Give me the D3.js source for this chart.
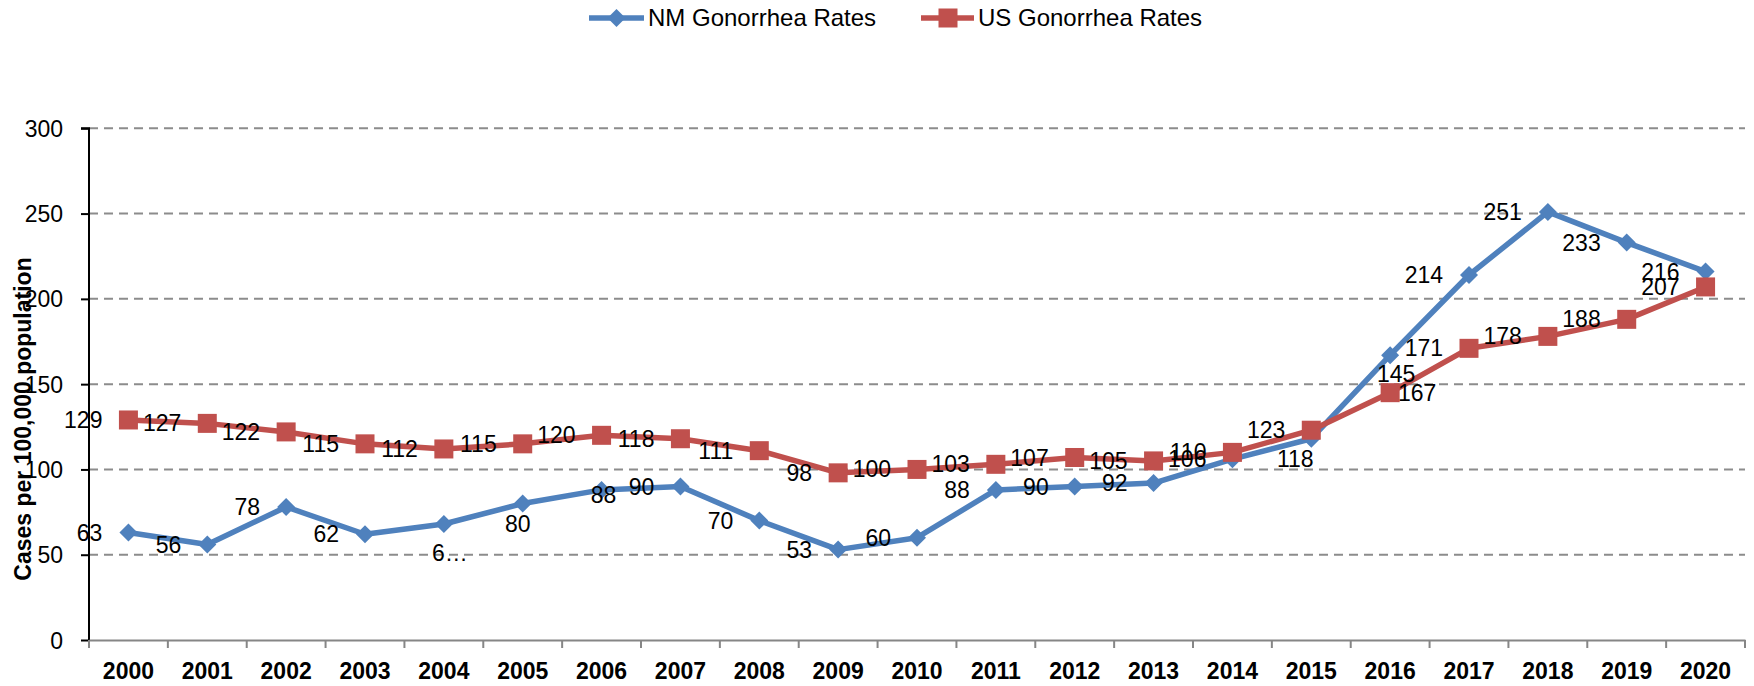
<!DOCTYPE html>
<html>
<head>
<meta charset="utf-8">
<script src="https://cdn.jsdelivr.net/npm/d3@7"></script>
<style>
  html, body { margin: 0; padding: 0; background: #fff; }
  svg { display: block; font-family: "Liberation Sans", Arial, sans-serif; }
</style>
</head>
<body>
<svg id="chart" width="1754" height="686"></svg>
<script>
const years = ["2000","2001","2002","2003","2004","2005","2006","2007","2008","2009","2010",
               "2011","2012","2013","2014","2015","2016","2017","2018","2019","2020"];
const nmRates = [63,56,78,62,68,80,88,90,70,53,60,88,90,92,106,118,167,214,251,233,216];
const usRates = [129,127,122,115,112,115,120,118,111,98,100,103,107,105,110,123,145,171,178,188,207];
const yTicks = [0,50,100,150,200,250,300];
const seriesNames = ["NM Gonorrhea Rates", "US Gonorrhea Rates"];
// data label placement (Excel style)
const nmLabelPlace = ["left","left","left","left","belowTrunc","below","center","left","left","left","left",
                      "left","left","left","left","belowLeft","belowRight","left","left","left","left"];
const usLabelPlace = ["left","left","left","left","left","left","left","left","left","left","left",
                      "left","left","left","left","left","above","left","left","left","left"];

const svg = d3.select("#chart");
const plot = {left: 89, right: 1745, top: 128.3, bottom: 640};
const blue = "#4F81BD", red = "#C0504D";
const fs = 23;

const x = d3.scaleBand().domain(years).range([plot.left, plot.right]).padding(0);
const cx = d => x(d) + x.bandwidth() / 2;
const y = d3.scaleLinear().domain([0, 300]).range([plot.bottom, plot.top]);

// gridlines
svg.append("g").selectAll("line").data(yTicks.filter(t => t > 0)).join("line")
  .attr("x1", plot.left).attr("x2", plot.right)
  .attr("y1", d => y(d)).attr("y2", d => y(d))
  .attr("stroke", "#8c8c8c").attr("stroke-width", 2).attr("stroke-dasharray", "9,6");

// y axis
const yAxis = d3.axisLeft(y).tickValues(yTicks).tickSize(8).tickPadding(18).tickFormat(d3.format("d"));
const gy = svg.append("g").attr("transform", `translate(${plot.left},0)`).call(yAxis);
gy.select(".domain").attr("stroke", "#000").attr("stroke-width", 2).attr("d", `M-8,${plot.top}H0V${plot.bottom}`);
gy.selectAll(".tick line").attr("stroke", "#000").attr("stroke-width", 2);
gy.selectAll(".tick text").attr("font-size", fs).attr("fill", "#000")
  .attr("font-family", "'Liberation Sans', Arial, sans-serif").attr("dy", "0.35em");

// x axis
const xAxis = d3.axisBottom(x).tickSize(0).tickPadding(23);
const gx = svg.append("g").attr("transform", `translate(0,${plot.bottom})`).call(xAxis);
gx.select(".domain").attr("stroke", "#868686").attr("stroke-width", 2);
gx.selectAll(".tick text").attr("font-size", fs).attr("font-weight", "bold").attr("fill", "#000")
  .attr("font-family", "'Liberation Sans', Arial, sans-serif");
// boundary ticks
const bounds = years.map(d => x(d)).concat([plot.right]);
svg.append("g").selectAll("line").data(bounds).join("line")
  .attr("x1", d => d).attr("x2", d => d)
  .attr("y1", plot.bottom).attr("y2", plot.bottom + 8)
  .attr("stroke", "#868686").attr("stroke-width", 2);

// y axis title
svg.append("text")
  .attr("transform", `translate(31,${419}) rotate(-90)`)
  .attr("text-anchor", "middle").attr("font-size", 23).attr("font-weight", "bold")
  .text("Cases per 100,000 population");

const line = d3.line().x((d, i) => cx(years[i])).y(d => y(d));
const diamond = (s) => `M0,${-s}L${s},0L0,${s}L${-s},0Z`;

// NM series
svg.append("path").datum(nmRates).attr("d", line)
  .attr("fill", "none").attr("stroke", blue).attr("stroke-width", 5.5).attr("stroke-linejoin", "round");
svg.append("g").selectAll("path").data(nmRates).join("path")
  .attr("d", diamond(9))
  .attr("transform", (d, i) => `translate(${cx(years[i])},${y(d)})`)
  .attr("fill", blue);

// US series
svg.append("path").datum(usRates).attr("d", line)
  .attr("fill", "none").attr("stroke", red).attr("stroke-width", 5.5).attr("stroke-linejoin", "round");
svg.append("g").selectAll("rect").data(usRates).join("rect")
  .attr("x", (d, i) => cx(years[i]) - 9.5).attr("y", d => y(d) - 9.5)
  .attr("width", 19).attr("height", 19).attr("fill", red);

// data labels
function placeLabels(values, places) {
  const g = svg.append("g");
  values.forEach((v, i) => {
    const px = cx(years[i]), py = y(v), p = places[i];
    let tx = px, ty = py, anchor = "middle", txt = String(v);
    if (p === "left") { tx = px - 26; anchor = "end"; }
    else if (p === "below") { tx = px - 5; ty = py + 20; }
    else if (p === "belowTrunc") { tx = px + 6; ty = py + 29; txt = txt[0] + "…"; }
    else if (p === "belowLeft") { tx = px - 16; ty = py + 20; }
    else if (p === "belowRight") { tx = px + 27; ty = py + 38; }
    else if (p === "above") { tx = px + 6; ty = py - 19; }
    else if (p === "center") { tx = px + 2; ty = py + 5; }
    g.append("text").attr("x", tx).attr("y", ty + 0.35 * fs)
      .attr("text-anchor", anchor).attr("font-size", fs).attr("fill", "#000").text(txt);
  });
}
placeLabels(nmRates, nmLabelPlace);
placeLabels(usRates, usLabelPlace);

// legend
const legY = 18, lfs = 24;
const leg = svg.append("g");
leg.append("line").attr("x1", 589).attr("x2", 644).attr("y1", legY).attr("y2", legY)
  .attr("stroke", blue).attr("stroke-width", 5.5);
leg.append("path").attr("d", diamond(9)).attr("transform", `translate(616.5,${legY})`).attr("fill", blue);
leg.append("text").attr("x", 648).attr("y", legY + 0.35 * lfs).attr("font-size", lfs).text(seriesNames[0]);
leg.append("line").attr("x1", 921).attr("x2", 974).attr("y1", legY).attr("y2", legY)
  .attr("stroke", red).attr("stroke-width", 5.5);
leg.append("rect").attr("x", 948 - 9.5).attr("y", legY - 9.5).attr("width", 19).attr("height", 19).attr("fill", red);
leg.append("text").attr("x", 978).attr("y", legY + 0.35 * lfs).attr("font-size", lfs).text(seriesNames[1]);
</script>
</body>
</html>
